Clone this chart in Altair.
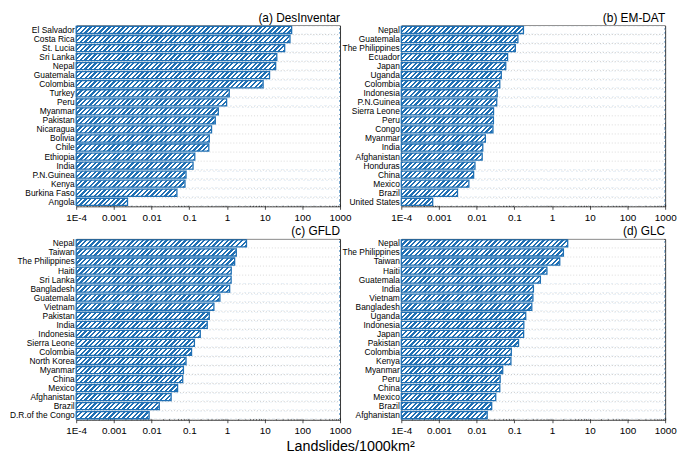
import altair as alt
import pandas as pd

FONT = "Liberation Sans"
BLUE = "#2070b4"

TICK_VALUES = [1e-4, 1e-3, 1e-2, 1e-1, 1, 10, 100, 1000]
TICK_LABELS = ["1E-4", "0.001", "0.01", "0.1", "1", "10", "100", "1000"]
MINOR_MULT = [2, 3, 4, 5, 6, 7, 8, 9]
X_TITLE = "Landslides/1000km\u00b2"

A_TITLE = "(a) DesInventar"
A_COUNTRIES = ["El Salvador", "Costa Rica", "St. Lucia", "Sri Lanka", "Nepal", "Guatemala",
               "Colombia", "Turkey", "Peru", "Myanmar", "Pakistan", "Nicaragua", "Bolivia",
               "Chile", "Ethiopia", "India", "P.N.Guinea", "Kenya", "Burkina Faso", "Angola"]
A_VALUES = [52, 47, 34, 21, 19.6, 13.5, 9.1, 1.15, 0.98, 0.59, 0.49, 0.39, 0.34, 0.33,
            0.14, 0.126, 0.082, 0.077, 0.047, 0.0023]

B_TITLE = "(b) EM-DAT"
B_COUNTRIES = ["Nepal", "Guatemala", "The Philippines", "Ecuador", "Japan", "Uganda",
               "Colombia", "Indonesia", "P.N.Guinea", "Sierra Leone", "Peru", "Congo",
               "Myanmar", "India", "Afghanistan", "Honduras", "China", "Mexico", "Brazil",
               "United States"]
B_VALUES = [0.174, 0.124, 0.106, 0.066, 0.059, 0.045, 0.041, 0.035, 0.034, 0.028, 0.0278,
            0.027, 0.017, 0.0145, 0.014, 0.009, 0.0083, 0.0062, 0.0031, 0.00068]

C_TITLE = "(c) GFLD"
C_COUNTRIES = ["Nepal", "Taiwan", "The Philippines", "Haiti", "Sri Lanka", "Bangladesh",
               "Guatemala", "Vietnam", "Pakistan", "India", "Indonesia", "Sierra Leone",
               "Colombia", "North Korea", "Myanmar", "China", "Mexico", "Afghanistan",
               "Brazil", "D.R.of the Congo"]
C_VALUES = [3.3, 1.77, 1.6, 1.3, 1.29, 1.18, 0.65, 0.45, 0.34, 0.30, 0.196, 0.137, 0.115,
            0.082, 0.07, 0.067, 0.049, 0.033, 0.016, 0.0086]

D_TITLE = "(d) GLC"
D_COUNTRIES = ["Nepal", "The Philippines", "Taiwan", "Haiti", "Guatemala", "India",
               "Vietnam", "Bangladesh", "Uganda", "Indonesia", "Japan", "Pakistan",
               "Colombia", "Kenya", "Myanmar", "Peru", "China", "Mexico", "Brazil",
               "Afghanistan"]
D_VALUES = [2.6, 2.0, 1.6, 0.73, 0.49, 0.32, 0.31, 0.29, 0.2, 0.178, 0.176, 0.129, 0.083,
            0.081, 0.049, 0.042, 0.041, 0.032, 0.025, 0.019]

# ---- layout / style ----
W, H = 267, 183
PI, PO = 0.22, 0.11
N_ROWS = 20
STEP = H / (N_ROWS - PI + 2 * PO)
BW = STEP * (1 - PI)

# diagonal hatch built as a sharp-stop linear gradient over a full-width bar
SPAN = W + BW + 3
PERIOD = 4.8
NSTRIPE = int(round(SPAN / PERIOD))
GX2 = SPAN / (W * (1 + (BW / W) ** 2))
GY2 = GX2 * BW / W
FRAC = 0.5
stops = []
for k in range(NSTRIPE):
    a = k / NSTRIPE
    b = (k + FRAC) / NSTRIPE
    c = (k + 1) / NSTRIPE
    stops += [{"offset": a, "color": BLUE}, {"offset": b, "color": BLUE},
              {"offset": b, "color": "#ffffff"}, {"offset": c, "color": "#ffffff"}]
HATCH = {"gradient": "linear", "x1": 0, "y1": 0, "x2": GX2, "y2": GY2, "stops": stops}

minor = [m * d for d in TICK_VALUES[:-1] for m in MINOR_MULT]
all_ticks = TICK_VALUES + minor
is_major = "abs(log(datum.value)/LN10 - round(log(datum.value)/LN10)) < 1e-6"
lab_arr = "[" + ",".join("'%s'" % s for s in TICK_LABELS) + "]"
label_expr = "%s ? %s[round(log(datum.value)/LN10)+4] : ''" % (is_major, lab_arr)

xaxis = alt.Axis(values=all_ticks, labelExpr=label_expr, title=None, grid=False,
                 domain=False, offset=-2,
                 tickSize={"condition": {"test": is_major, "value": 5}, "value": 2},
                 tickColor="#222222", tickWidth=0.8, labelFontSize=10, labelPadding=3,
                 labelColor="black", labelFlush=False, labelOverlap=False, labelBound=False)
xscale = alt.Scale(type="log", domain=[1e-4, 1000], nice=False)


def panel(title, countries, values):
    df = pd.DataFrame({"c": countries, "v": values})
    yaxis = alt.Axis(title=None, ticks=False, domain=False, grid=False, labelFontSize=8.5,
                     labelColor="black", labelPadding=2, labelLimit=200)
    yscale = alt.Scale(paddingInner=PI, paddingOuter=PO)
    y = alt.Y("c:N", sort=countries, scale=yscale, axis=yaxis)
    base = alt.Chart(df)
    grid = base.mark_rule(color="#b5b5b5", strokeDash=[1, 2], strokeWidth=0.8,
                          yOffset=PI * STEP / 2).encode(
        y=alt.Y("c:N", sort=countries, scale=yscale, axis=yaxis, bandPosition=1),
        x=alt.X(datum=1e-4, type="quantitative", scale=xscale, axis=xaxis),
        x2=alt.X2(datum=1000),
    )
    hatch = base.mark_bar(fill=HATCH, strokeWidth=0).encode(
        y=y,
        x=alt.X(datum=1e-4, type="quantitative", scale=xscale, axis=xaxis),
        x2=alt.X2(datum=1000),
    )
    mask = base.mark_bar(fill="white", stroke="white", strokeWidth=0.8, x2Offset=-1).encode(
        y=y,
        x=alt.X("v:Q", scale=xscale, axis=xaxis),
        x2=alt.X2(datum=1000),
    )
    outline = base.mark_bar(fillOpacity=0, stroke=BLUE, strokeWidth=1.3).encode(
        y=y,
        x=alt.X("v:Q", scale=xscale, axis=xaxis),
        x2=alt.X2(datum=1e-4),
    )
    return alt.layer(grid, hatch, mask, outline).properties(
        width=W, height=H,
        title=alt.TitleParams(title, anchor="end", frame="group", fontSize=12,
                              fontWeight="normal", font=FONT, color="black", offset=1),
    )


pa = panel(A_TITLE, A_COUNTRIES, A_VALUES)
pb = panel(B_TITLE, B_COUNTRIES, B_VALUES)
pc = panel(C_TITLE, C_COUNTRIES, C_VALUES)
pd_ = panel(D_TITLE, D_COUNTRIES, D_VALUES)

chart = alt.concat(
    pa, pb, pc, pd_, columns=2, spacing={"row": 33, "column": 62}, bounds="flush",
    title=alt.TitleParams(X_TITLE, orient="bottom", anchor="middle", fontSize=14.5,
                          fontWeight="normal", font=FONT, color="black", offset=4, dx=8),
).properties(padding=0).configure_view(
    stroke="#333333", strokeWidth=1
).configure_axis(labelFont=FONT).configure_title(font=FONT)

chart.save("out.html", embed_options={"renderer": "svg", "actions": False})
